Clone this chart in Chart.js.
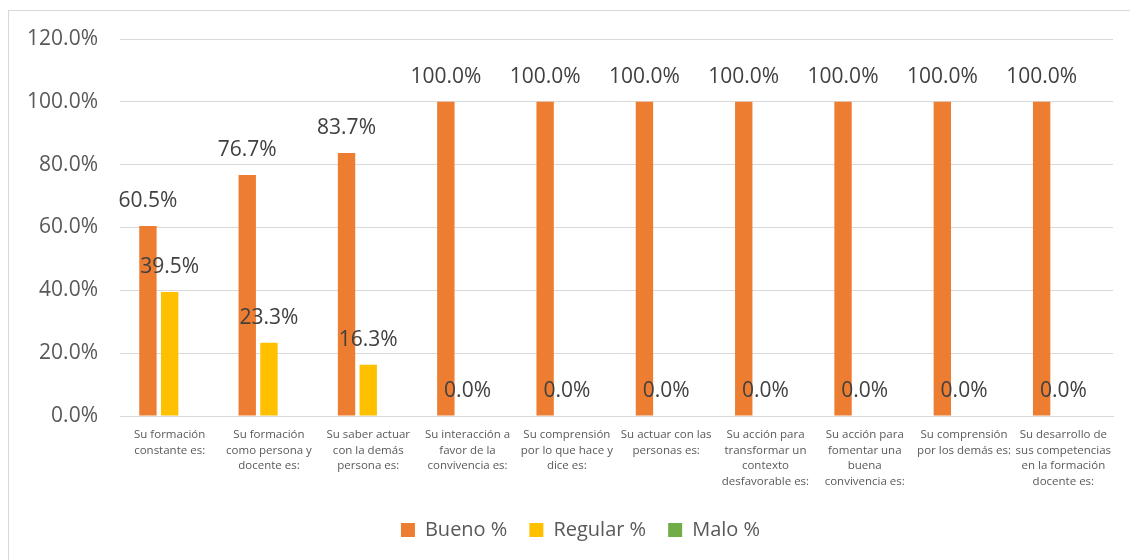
<!DOCTYPE html>
<html>
<head>
<meta charset="utf-8">
<script src="https://cdn.jsdelivr.net/npm/chart.js@4"></script>
<style>
  html, body { margin: 0; padding: 0; background: #fff; }
  #wrap { width: 1130px; height: 560px; position: relative; }
</style>
</head>
<body>
<div id="wrap"><canvas id="chart" width="1130" height="560"></canvas></div>
<script>
// categories (multi-line labels as in the original)
const categorias = [
    ['Su formación', 'constante es:'],
    ['Su formación', 'como persona y', 'docente es:'],
    ['Su saber actuar', 'con la demás', 'persona es:'],
    ['Su interacción a', 'favor de la', 'convivencia es:'],
    ['Su comprensión', 'por lo que hace y', 'dice es:'],
    ['Su actuar con las', 'personas es:'],
    ['Su acción para', 'transformar un', 'contexto', 'desfavorable es:'],
    ['Su acción para', 'fomentar una', 'buena', 'convivencia es:'],
    ['Su comprensión', 'por los demás es:'],
    ['Su desarrollo de', 'sus competencias', 'en la formación', 'docente es:']
];

const bueno = [60.5, 76.7, 83.7, 100, 100, 100, 100, 100, 100, 100];
const regular = [39.5, 23.3, 16.3, 0, 0, 0, 0, 0, 0, 0];
const malo = [0, 0, 0, 0, 0, 0, 0, 0, 0, 0];

const FONT = "'Open Sans', 'Liberation Sans', sans-serif";

// labels over the bueno / regular bars
const etiquetas = {
    id: 'etiquetas',
    afterDatasetsDraw(chart) {
        const ctx = chart.ctx;
        ctx.save();
        ctx.font = '21px ' + FONT;
        ctx.fillStyle = '#404040';
        ctx.textAlign = 'center';
        ctx.textBaseline = 'middle';
        [0, 1].forEach(i => {
            const meta = chart.getDatasetMeta(i);
            meta.data.forEach((bar, j) => {
                const v = chart.data.datasets[i].data[j];
                ctx.fillText(v.toFixed(1) + '%', bar.x, bar.y - 25);
            });
        });
        ctx.restore();
    }
};

// light frame + nudge the legend a little to the right, like the original
const marco = {
    id: 'marco',
    afterLayout(chart) {
        chart.legend.left += 40;
    },
    beforeDraw(chart) {
        const ctx = chart.ctx;
        ctx.save();
        ctx.strokeStyle = '#d9d9d9';
        ctx.lineWidth = 1;
        ctx.strokeRect(8.5, 10.5, 1200, 700);
        ctx.restore();
    }
};

const ctx = document.getElementById('chart').getContext('2d');
new Chart(ctx, {
    type: 'bar',
    data: {
        labels: categorias,
        datasets: [
            { label: 'Bueno %', data: bueno, backgroundColor: '#ED7D31' },
            { label: 'Regular %', data: regular, backgroundColor: '#FFC000' },
            { label: 'Malo %', data: malo, backgroundColor: '#70AD47' }
        ]
    },
    options: {
        responsive: false,
        animation: false,
        categoryPercentage: 0.656,
        barPercentage: 0.8,
        layout: { padding: { left: 8, right: 17, top: 39, bottom: 10 } },
        plugins: {
            legend: {
                position: 'bottom',
                labels: {
                    font: { family: FONT, size: 20 },
                    color: '#595959',
                    boxWidth: 14,
                    boxHeight: 14,
                    padding: 22
                }
            },
            tooltip: { enabled: false }
        },
        scales: {
            x: {
                grid: { display: false, drawTicks: false },
                border: { color: '#d9d9d9' },
                ticks: {
                    autoSkip: false,
                    maxRotation: 0,
                    minRotation: 0,
                    padding: 11,
                    color: '#595959',
                    font: { family: FONT, size: 11.5, lineHeight: 1.35 }
                },
                afterFit: s => { s.height = 82; }
            },
            y: {
                min: 0,
                max: 120,
                ticks: {
                    stepSize: 20,
                    padding: 22,
                    color: '#595959',
                    font: { family: FONT, size: 21 },
                    callback: v => v.toFixed(1) + '%'
                },
                grid: { color: '#d9d9d9', drawTicks: false },
                border: { display: false },
                afterFit: s => { s.width = 112; }
            }
        }
    },
    plugins: [etiquetas, marco]
});
</script>
</body>
</html>
